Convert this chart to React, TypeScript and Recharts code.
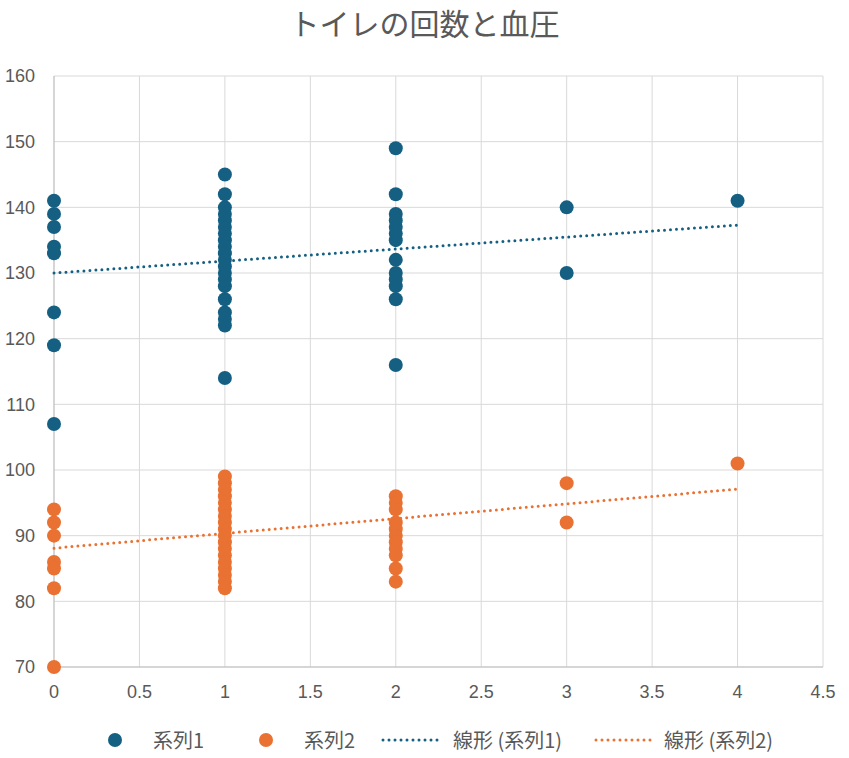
import React from 'react';
import { ScatterChart, Scatter, XAxis, YAxis, CartesianGrid } from 'recharts';

const BLUE = '#156082';
const ORANGE = '#E97132';
const TEXT = '#595959';

const xTicks = [0, 0.5, 1, 1.5, 2, 2.5, 3, 3.5, 4, 4.5];
const yTicks = [70, 80, 90, 100, 110, 120, 130, 140, 150, 160];

// 系列1 (upper readings)
const s1x0 = [141, 139, 137, 134, 133, 124, 119, 107];
const s1x1 = [145, 142, 140, 139, 138, 137, 136, 135, 134, 133, 132, 131, 130, 129, 128, 126, 124, 123, 122, 114];
const s1x2 = [149, 142, 139, 138, 137, 136, 135, 132, 130, 129, 128, 126, 116];
const s1x3 = [140, 130];
const s1x4 = [141];

// 系列2 (lower readings)
const s2x0 = [94, 92, 90, 86, 85, 82, 70];
const s2x1 = [99, 98, 97, 96, 95, 94, 93, 92, 91, 90, 89, 88, 87, 86, 85, 84, 83, 82];
const s2x2 = [96, 95, 94, 92, 91, 90, 89, 88, 87, 85, 83];
const s2x3 = [98, 92];
const s2x4 = [101];

// trend line endpoints
const trend1X = [0, 4];
const trend1Y = [130, 137.3];
const trend2X = [0, 4];
const trend2Y = [88.1, 97.1];

const build = (groups: number[][]) =>
  groups.flatMap((vals, i) => vals.map((v) => ({ x: i, y: v })));

const series1 = build([s1x0, s1x1, s1x2, s1x3, s1x4]);
const series2 = build([s2x0, s2x1, s2x2, s2x3, s2x4]);
const trend1 = trend1X.map((x, i) => ({ x, y: trend1Y[i] }));
const trend2 = trend2X.map((x, i) => ({ x, y: trend2Y[i] }));

const dot = (color: string) => (props: any) => (
  <circle cx={props.cx} cy={props.cy} r={7} fill={color} />
);
const noDot = () => <g />;

const font = '"Liberation Sans", Arial, sans-serif';
const cjk = '"Noto Sans CJK JP", "Liberation Sans", sans-serif';

export default function App() {
  return (
    <div style={{ position: 'absolute', left: 0, top: 0, width: 849, height: 758, background: '#fff' }}>
      <div
        style={{
          position: 'absolute', left: 0, top: 0, width: 849, textAlign: 'center',
          fontFamily: cjk, fontSize: 30, lineHeight: '44px', color: TEXT,
        }}
      >
        トイレの回数と血圧
      </div>
      <ScatterChart width={849} height={758} margin={{ top: 76, right: 26, bottom: 61, left: 0 }}>
        <CartesianGrid stroke="#d9d9d9" strokeWidth={1} />
        <XAxis
          type="number" dataKey="x" domain={[0, 4.5]} ticks={xTicks} interval={0} height={30}
          axisLine={{ stroke: '#bfbfbf' }} tickLine={false} tickSize={0} tickMargin={18}
          tick={{ fill: TEXT, fontSize: 18, fontFamily: font }}
        />
        <YAxis
          type="number" dataKey="y" domain={[70, 160]} ticks={yTicks} interval={0} width={54}
          axisLine={{ stroke: '#bfbfbf' }} tickLine={false} tickSize={0} tickMargin={19}
          tick={{ fill: TEXT, fontSize: 18, fontFamily: font }}
        />
        <Scatter
          data={trend1} isAnimationActive={false} shape={noDot}
          line={{ stroke: BLUE, strokeWidth: 3, strokeDasharray: '0 6', strokeLinecap: 'round' }}
        />
        <Scatter
          data={trend2} isAnimationActive={false} shape={noDot}
          line={{ stroke: ORANGE, strokeWidth: 3, strokeDasharray: '0 6', strokeLinecap: 'round' }}
        />
        <Scatter data={series1} isAnimationActive={false} shape={dot(BLUE)} />
        <Scatter data={series2} isAnimationActive={false} shape={dot(ORANGE)} />
      </ScatterChart>
      <div style={{ position: 'absolute', left: 0, top: 727, width: 849, height: 26, fontFamily: cjk, fontSize: 20, color: TEXT }}>
        <span style={{ position: 'absolute', left: 108, top: 6, width: 14, height: 14, borderRadius: 7, background: BLUE }} />
        <span style={{ position: 'absolute', left: 153, top: 0, lineHeight: '26px' }}>系列1</span>
        <span style={{ position: 'absolute', left: 259, top: 6, width: 14, height: 14, borderRadius: 7, background: ORANGE }} />
        <span style={{ position: 'absolute', left: 304, top: 0, lineHeight: '26px' }}>系列2</span>
        <svg style={{ position: 'absolute', left: 380, top: 0 }} width={66} height={26}>
          <line x1={3} y1={13} x2={63} y2={13} stroke={BLUE} strokeWidth={3} strokeDasharray="0 6" strokeLinecap="round" />
        </svg>
        <span style={{ position: 'absolute', left: 453, top: 0, lineHeight: '26px' }}>線形 (系列1)</span>
        <svg style={{ position: 'absolute', left: 593, top: 0 }} width={66} height={26}>
          <line x1={3} y1={13} x2={60} y2={13} stroke={ORANGE} strokeWidth={3} strokeDasharray="0 6" strokeLinecap="round" />
        </svg>
        <span style={{ position: 'absolute', left: 664, top: 0, lineHeight: '26px' }}>線形 (系列2)</span>
      </div>
    </div>
  );
}
